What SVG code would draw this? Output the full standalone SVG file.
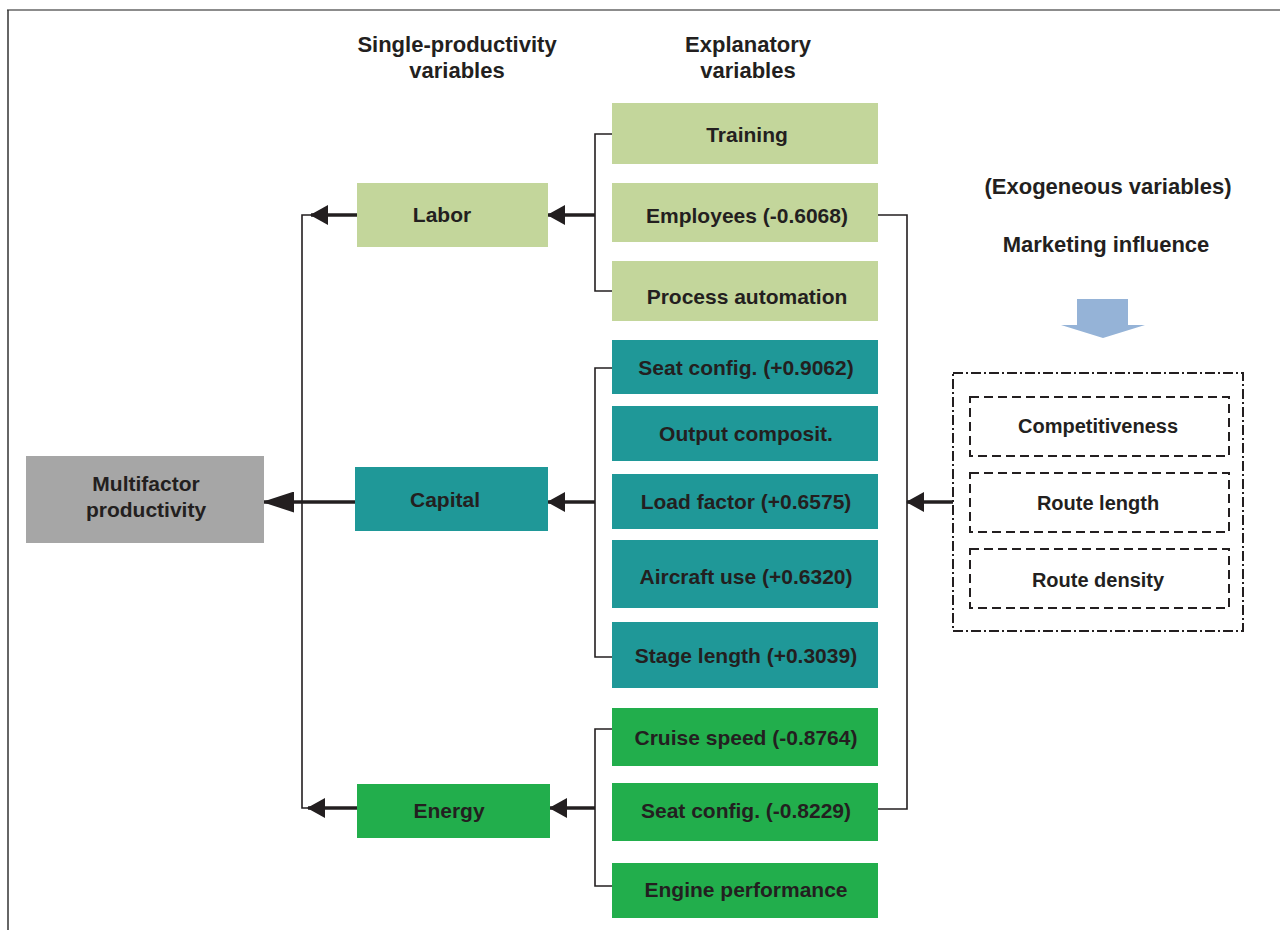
<svg xmlns="http://www.w3.org/2000/svg" width="1280" height="930" viewBox="0 0 1280 930">
<style>
text{font-family:"Liberation Sans",Arial,sans-serif;font-weight:bold;fill:#231f20;text-anchor:middle}
.hd{font-size:22px}
.bx{font-size:21px}
.ex{font-size:20px}
.lg{fill:#c3d69b}
.tl{fill:#1f9898}
.gr{fill:#22ae4c}
.gy{fill:#a6a6a6}
.thin{fill:none;stroke:#231f20;stroke-width:1.6}
.thick{fill:none;stroke:#231f20;stroke-width:3.5}
.dash{fill:none;stroke:#231f20;stroke-width:2;stroke-dasharray:9 5}
.dashdot{fill:none;stroke:#231f20;stroke-width:2;stroke-dasharray:10 3 2 3}
</style>
<defs>
<marker id="ah" markerUnits="userSpaceOnUse" markerWidth="18" markerHeight="20" refX="17" refY="10" orient="auto">
<path d="M0,0 L18,10 L0,20 Z" fill="#231f20"/>
</marker>
<marker id="ahbig" markerUnits="userSpaceOnUse" markerWidth="32" markerHeight="21" refX="31" refY="10.5" orient="auto">
<path d="M0,0 L32,10.5 L0,21 Z" fill="#231f20"/>
</marker>
</defs>
<rect width="1280" height="930" fill="#fff"/>
<g id="frame">
<line x1="7" y1="10" x2="1280" y2="10" stroke="#8c8c8c" stroke-width="2"/>
<line x1="8" y1="10" x2="8" y2="930" stroke="#333" stroke-width="1.5"/>
</g>
<g id="headers">
<text class="hd" x="457" y="52">Single-productivity</text>
<text class="hd" x="457" y="78">variables</text>
<text class="hd" x="748" y="52">Explanatory</text>
<text class="hd" x="748" y="78">variables</text>
<text class="hd" x="1108" y="194">(Exogeneous variables)</text>
<text class="hd" x="1106" y="252">Marketing influence</text>
</g>
<g id="connectors">
<path class="thin" d="M612,134 H595 V291 H612"/>
<path class="thin" d="M612,368 H595 V657 H612"/>
<path class="thin" d="M612,729 H595 V886 H612"/>
<path class="thin" d="M312,215 H302 V808 H310"/>
<path class="thin" d="M878,215 H907 V809 H878"/>
<line class="thick" x1="595" y1="215" x2="548" y2="215" marker-end="url(#ah)"/>
<line class="thick" x1="595" y1="502" x2="548" y2="502" marker-end="url(#ah)"/>
<line class="thick" x1="595" y1="808" x2="550" y2="808" marker-end="url(#ah)"/>
<line class="thick" x1="357" y1="215" x2="311" y2="215" marker-end="url(#ah)"/>
<line class="thick" x1="357" y1="808" x2="308" y2="808" marker-end="url(#ah)"/>
<line class="thick" x1="355" y1="502" x2="263" y2="502" marker-end="url(#ahbig)"/>
<line class="thick" x1="953" y1="502" x2="907" y2="502" marker-end="url(#ah)"/>
<polygon points="1077,299 1128,299 1128,325 1145,325 1103,338 1061,325 1077,325" fill="#95b3d7"/>
</g>
<g id="multifactor"><rect class="gy" x="26" y="456" width="238" height="87"/><text class="bx" x="146" y="491">Multifactor</text><text class="bx" x="146" y="517">productivity</text></g>
<g id="labor"><rect class="lg" x="357" y="183" width="191" height="64"/><text class="bx" x="442" y="222">Labor</text></g>
<g id="capital"><rect class="tl" x="355" y="467" width="193" height="64"/><text class="bx" x="445" y="507">Capital</text></g>
<g id="energy"><rect class="gr" x="357" y="784" width="193" height="54"/><text class="bx" x="449" y="818">Energy</text></g>
<g id="training"><rect class="lg" x="612" y="103" width="266" height="61"/><text class="bx" x="747" y="142">Training</text></g>
<g id="employees"><rect class="lg" x="612" y="183" width="266" height="59"/><text class="bx" x="747" y="223">Employees (-0.6068)</text></g>
<g id="process-automation"><rect class="lg" x="612" y="261" width="266" height="60"/><text class="bx" x="747" y="304">Process automation</text></g>
<g id="seat-config-cap"><rect class="tl" x="612" y="340" width="266" height="54"/><text class="bx" x="746" y="375">Seat config. (+0.9062)</text></g>
<g id="output-composit"><rect class="tl" x="612" y="406" width="266" height="55"/><text class="bx" x="746" y="441">Output composit.</text></g>
<g id="load-factor"><rect class="tl" x="612" y="474" width="266" height="55"/><text class="bx" x="746" y="509">Load factor (+0.6575)</text></g>
<g id="aircraft-use"><rect class="tl" x="612" y="540" width="266" height="68"/><text class="bx" x="746" y="584">Aircraft use (+0.6320)</text></g>
<g id="stage-length"><rect class="tl" x="612" y="622" width="266" height="66"/><text class="bx" x="746" y="663">Stage length (+0.3039)</text></g>
<g id="cruise-speed"><rect class="gr" x="612" y="708" width="266" height="58"/><text class="bx" x="746" y="745">Cruise speed (-0.8764)</text></g>
<g id="seat-config-en"><rect class="gr" x="612" y="783" width="266" height="58"/><text class="bx" x="746" y="818">Seat config. (-0.8229)</text></g>
<g id="engine-performance"><rect class="gr" x="612" y="863" width="266" height="55"/><text class="bx" x="746" y="897">Engine performance</text></g>
<g id="exogenous">
<rect class="dashdot" x="953" y="373" width="290" height="258"/>
<g id="competitiveness"><rect class="dash" x="970" y="397" width="259" height="59"/><text class="ex" x="1098" y="433">Competitiveness</text></g>
<g id="route-length"><rect class="dash" x="970" y="473" width="259" height="59"/><text class="ex" x="1098" y="510">Route length</text></g>
<g id="route-density"><rect class="dash" x="970" y="549" width="259" height="59"/><text class="ex" x="1098" y="587">Route density</text></g>
</g>
</svg>
